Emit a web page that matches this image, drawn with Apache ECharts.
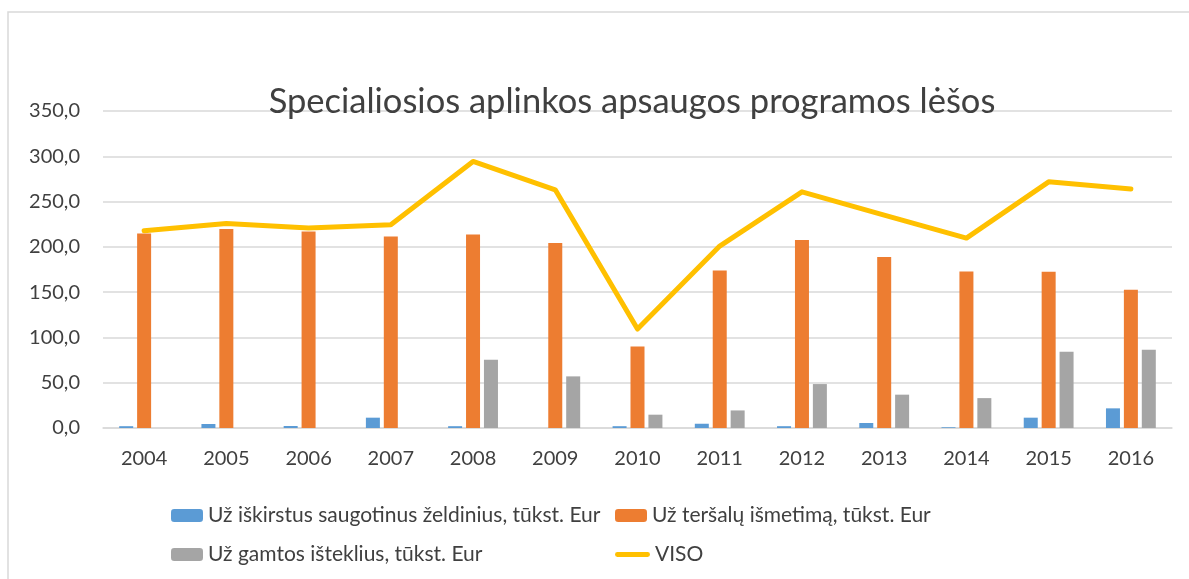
<!DOCTYPE html>
<html>
<head>
<meta charset="utf-8">
<script src="https://cdn.jsdelivr.net/npm/echarts@6/dist/echarts.min.js"></script>
<style>
  html, body { margin: 0; padding: 0; background: #fff; }
  #chart { width: 1189px; height: 579px; }
</style>
</head>
<body>
<div id="chart"></div>
<script>
const years = ['2004', '2005', '2006', '2007', '2008', '2009', '2010', '2011', '2012', '2013', '2014', '2015', '2016'];
const zeldiniai = [2.0, 4.4, 2.2, 11.4, 2.0, 0, 2.0, 4.7, 2.0, 5.5, 0.8, 11.4, 21.7];
const tersalai = [214.8, 219.6, 217.0, 211.5, 213.7, 204.2, 90.0, 174.0, 207.5, 188.7, 172.9, 172.5, 152.6];
const gamtos = [0, 0, 0, 0, 75.4, 57.0, 14.7, 19.4, 48.5, 36.8, 33.0, 84.2, 86.4];
const viso = [217.8, 225.8, 220.7, 224.4, 294.3, 263.0, 109.3, 200.9, 260.8, 235.0, 209.7, 271.8, 263.8];

const names = [
  'Už iškirstus saugotinus želdinius, tūkst. Eur',
  'Už teršalų išmetimą, tūkst. Eur',
  'Už gamtos išteklius, tūkst. Eur',
  'VISO',
];

const font = 'Lato, "Open Sans", sans-serif';
const textColor = '#404040';

const chart = echarts.init(document.getElementById('chart'));

const legendBase = {
  itemWidth: 32,
  itemHeight: 13,
  itemGap: 4,
  textStyle: { fontFamily: font, fontSize: 21, color: textColor },
};

chart.setOption({
  animation: false,
  color: ['#5B9BD5', '#ED7D31', '#A5A5A5', '#FFC000'],
  graphic: [{
    type: 'rect',
    shape: { x: 8, y: 12, width: 1200, height: 600 },
    style: { fill: 'none', stroke: '#d9d9d9', lineWidth: 1.5 },
    silent: true,
  }],
  title: {
    text: 'Specialiosios aplinkos apsaugos programos lėšos',
    left: 627,
    textAlign: 'center',
    top: 79,
    textStyle: { fontFamily: font, fontSize: 34.5, fontWeight: 'normal', color: textColor },
  },
  legend: [
    { ...legendBase, data: [names[0]], left: 166, top: 500 },
    { ...legendBase, data: [names[1]], left: 610, top: 500 },
    { ...legendBase, data: [names[2]], left: 166, top: 539 },
    { ...legendBase, data: [{ name: names[3], icon: 'path://M2,0 L33,0 A2.5,2.5 0 0 1 33,5 L2,5 A2.5,2.5 0 0 1 2,0 Z' }], left: 610, top: 539, itemWidth: 35, itemHeight: 5 },
  ],
  grid: { left: 103, right: 17, top: 111, bottom: 151 },
  xAxis: {
    type: 'category',
    data: years,
    axisLine: { lineStyle: { color: '#d9d9d9', width: 1.5 } },
    axisTick: { show: false },
    axisLabel: { fontFamily: font, fontSize: 20, color: textColor, margin: 21 },
  },
  yAxis: {
    type: 'value',
    min: 0,
    max: 350,
    interval: 50,
    axisLine: { show: false },
    axisTick: { show: false },
    splitLine: { lineStyle: { color: '#d9d9d9', width: 1.5 } },
    axisLabel: {
      fontFamily: font, fontSize: 20, color: textColor, margin: 23,
      formatter: v => v.toFixed(1).replace('.', ','),
    },
  },
  series: [
    { name: names[0], type: 'bar', data: zeldiniai, barWidth: 14, barGap: '28%' },
    { name: names[1], type: 'bar', data: tersalai, barWidth: 14, barGap: '28%' },
    { name: names[2], type: 'bar', data: gamtos, barWidth: 14, barGap: '28%' },
    {
      name: names[3], type: 'line', data: viso, showSymbol: false, symbol: 'none',
      lineStyle: { width: 5, cap: 'round', join: 'round' },
    },
  ],
});
</script>
</body>
</html>
